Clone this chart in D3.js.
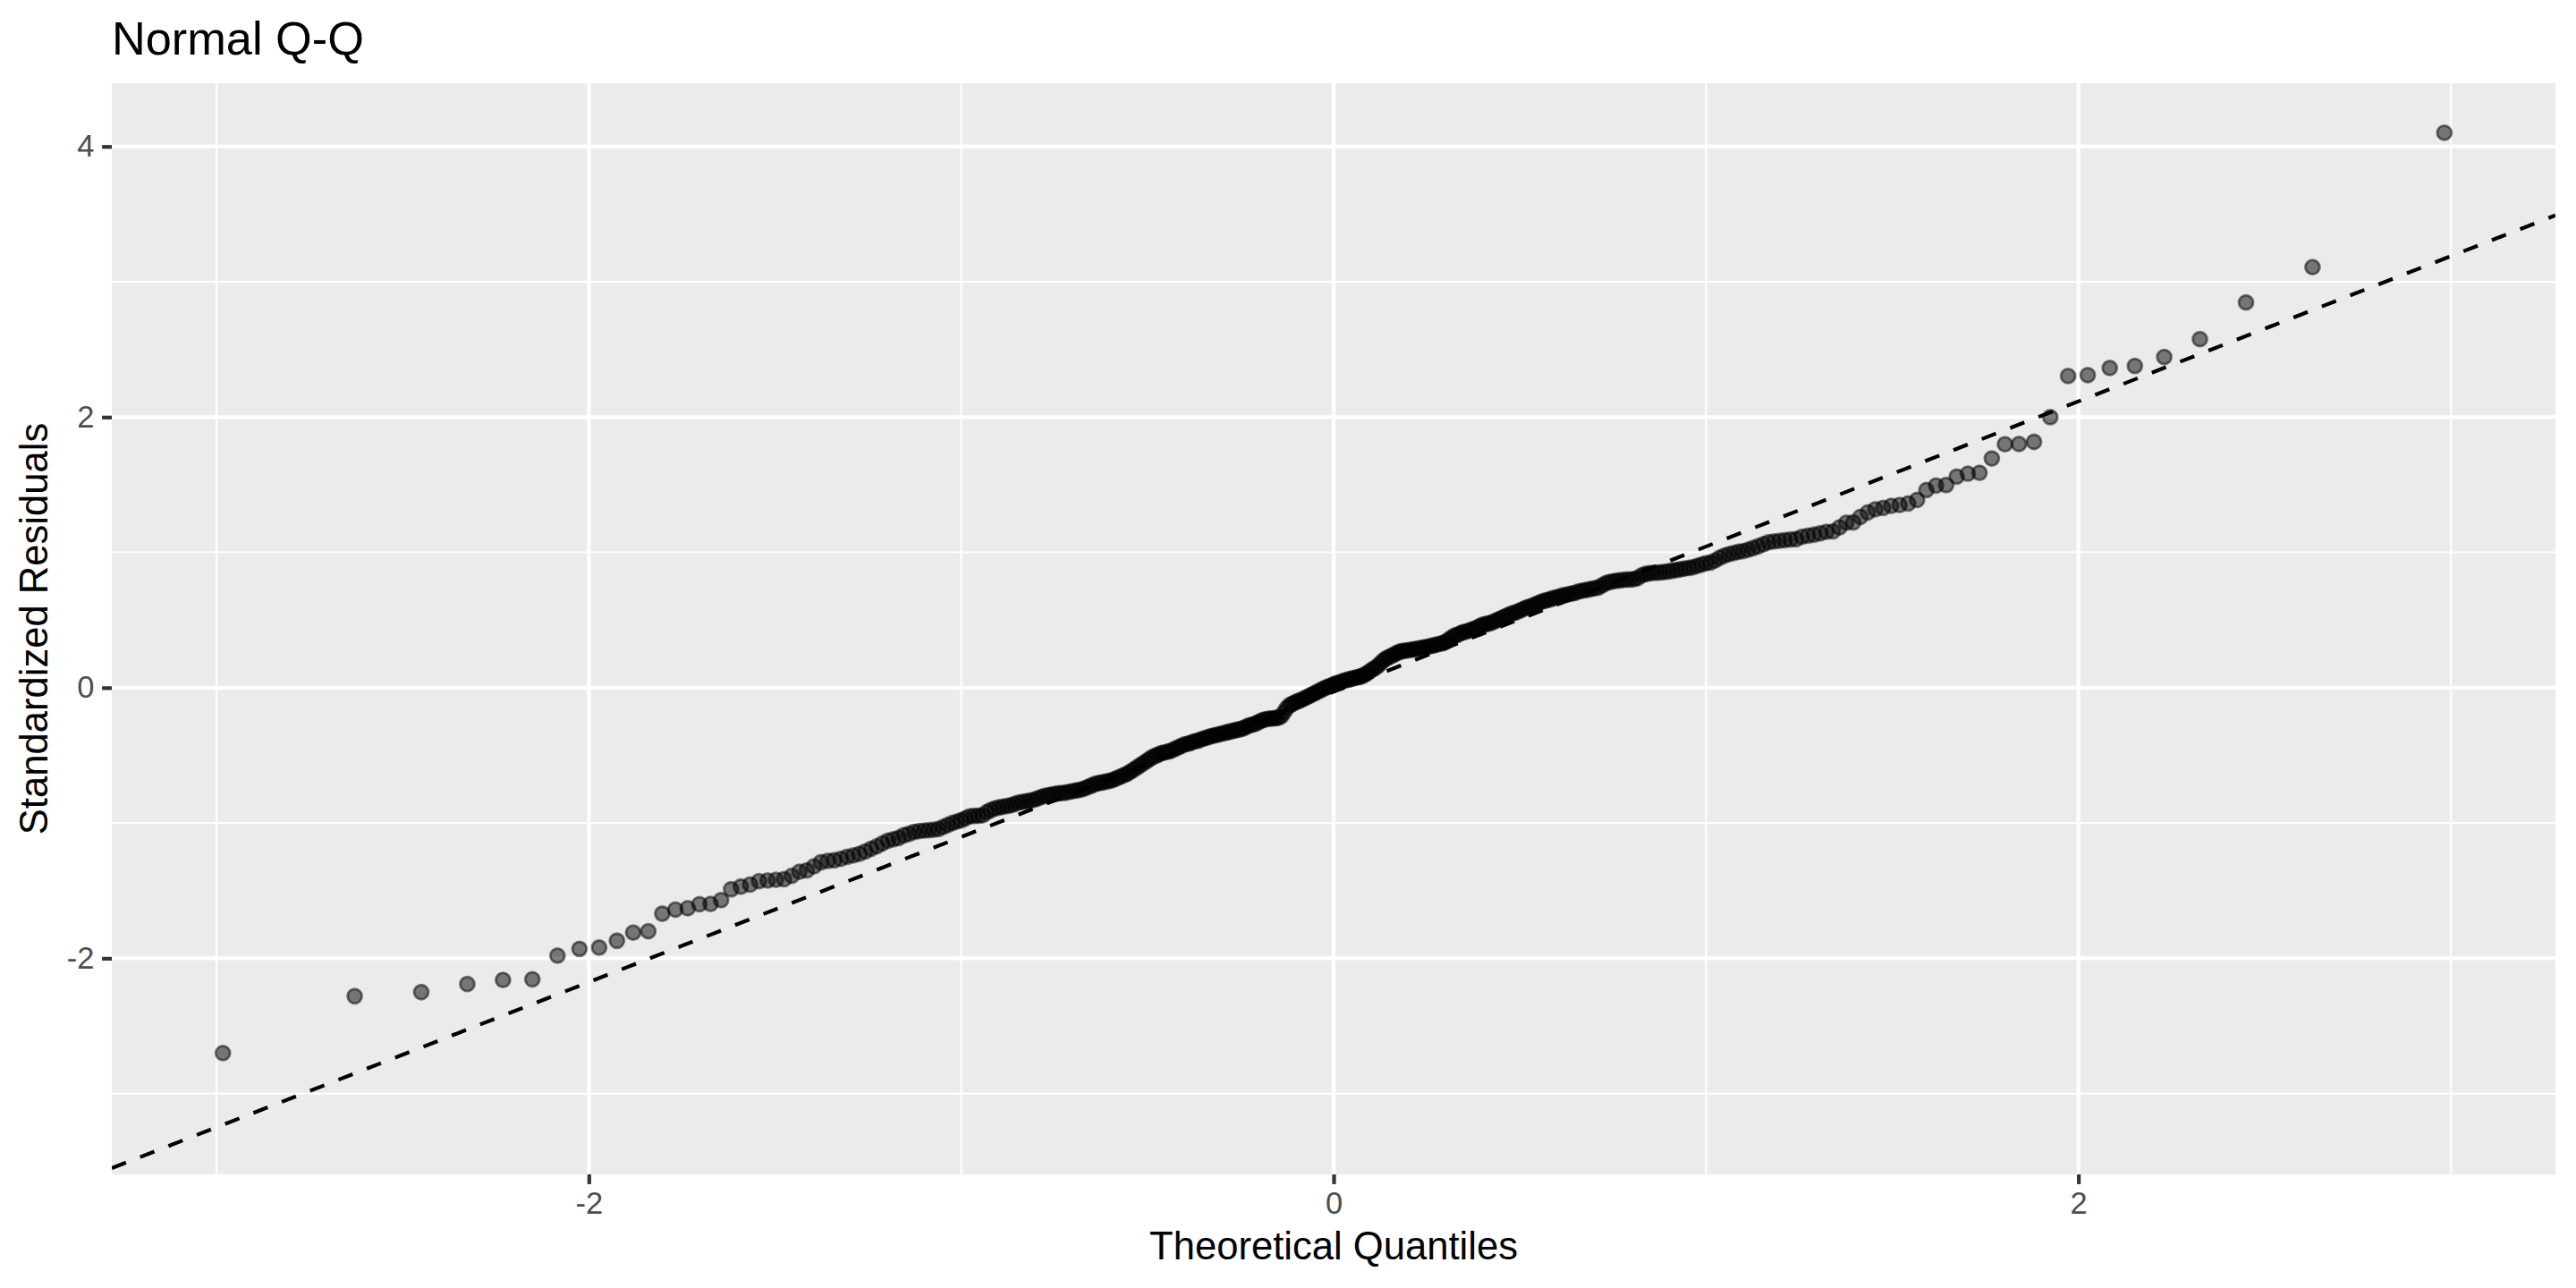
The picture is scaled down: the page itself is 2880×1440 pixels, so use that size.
<!DOCTYPE html>
<html><head><meta charset="utf-8">
<script src="https://cdn.jsdelivr.net/npm/d3@7"></script>
<style>
html,body{margin:0;padding:0;background:#fff;}
svg{display:block;}
text{font-family:"Liberation Sans", Arial, Helvetica, sans-serif;}
</style>
</head><body>
<svg id="chart" width="2880" height="1440"></svg>
<script>
// ---------- data ----------
const chartTitle = "Normal Q-Q";
const xAxisTitle = "Theoretical Quantiles";
const yAxisTitle = "Standardized Residuals";

// sorted standardized residuals (sample quantiles)
const residuals = [
  -2.70, -2.28, -2.25, -2.19, -2.16, -2.155, -1.98, -1.93, -1.92, -1.87,
  -1.81, -1.80, -1.67, -1.64, -1.63, -1.60, -1.598, -1.57, -1.49, -1.47,
  -1.455, -1.43, -1.425, -1.42, -1.415, -1.39, -1.36, -1.35, -1.32, -1.29,
  -1.28, -1.275, -1.265, -1.25, -1.24, -1.228, -1.21, -1.19, -1.172, -1.15,
  -1.13, -1.12, -1.11, -1.09, -1.08, -1.066, -1.06, -1.056, -1.053, -1.05,
  -1.045, -1.03, -1.015, -1.00, -0.99, -0.98, -0.965, -0.95, -0.948, -0.946,
  -0.944, -0.92, -0.905, -0.892, -0.885, -0.88, -0.875, -0.87, -0.86, -0.85,
  -0.845, -0.84, -0.835, -0.83, -0.82, -0.81, -0.80, -0.795, -0.79, -0.785,
  -0.78, -0.778, -0.776, -0.77, -0.765, -0.76, -0.755, -0.75, -0.74, -0.73,
  -0.72, -0.71, -0.705, -0.70, -0.695, -0.69, -0.685, -0.675, -0.665, -0.655,
  -0.645, -0.635, -0.62, -0.605, -0.59, -0.575, -0.56, -0.545, -0.53, -0.515,
  -0.505, -0.495, -0.485, -0.48, -0.475, -0.47, -0.46, -0.45, -0.44, -0.43,
  -0.42, -0.415, -0.41, -0.40, -0.395, -0.39, -0.38, -0.375, -0.368, -0.36,
  -0.355, -0.35, -0.345, -0.34, -0.335, -0.33, -0.325, -0.32, -0.315, -0.31,
  -0.305, -0.30, -0.29, -0.28, -0.275, -0.27, -0.26, -0.25, -0.24, -0.235,
  -0.23, -0.228, -0.226, -0.224, -0.222, -0.21, -0.18, -0.15, -0.13, -0.12,
  -0.11, -0.10, -0.095, -0.085, -0.075, -0.065, -0.055, -0.045, -0.035, -0.025,
  -0.015, -0.005, 0.005, 0.012, 0.02,
  0.03, 0.035, 0.04, 0.05, 0.055,
  0.06, 0.065, 0.07, 0.075, 0.08, 0.085, 0.095, 0.105, 0.12, 0.135,
  0.145, 0.16, 0.18, 0.20, 0.215, 0.225, 0.235, 0.245, 0.255, 0.265,
  0.27, 0.273, 0.276, 0.279, 0.282, 0.285, 0.289, 0.293, 0.297, 0.30,
  0.305, 0.31, 0.315, 0.32, 0.325, 0.33, 0.34, 0.355, 0.37, 0.385,
  0.39, 0.40, 0.41, 0.415, 0.42, 0.43, 0.435, 0.445, 0.455, 0.465,
  0.47, 0.475, 0.48, 0.49, 0.50, 0.51, 0.52, 0.53, 0.54, 0.55,
  0.555, 0.565, 0.575, 0.585, 0.595, 0.60, 0.61, 0.62, 0.63, 0.64,
  0.645, 0.65, 0.66, 0.665, 0.67, 0.68, 0.685, 0.69, 0.695, 0.70,
  0.71, 0.715, 0.72, 0.725, 0.73, 0.735, 0.74, 0.755, 0.77, 0.78,
  0.785, 0.79, 0.793, 0.796, 0.80, 0.80, 0.802, 0.81, 0.83, 0.84,
  0.845, 0.848, 0.85, 0.852, 0.855, 0.86, 0.865, 0.87, 0.875, 0.88,
  0.885, 0.89, 0.90, 0.91, 0.92, 0.925, 0.94, 0.96, 0.975, 0.987,
  0.995, 1.005, 1.01, 1.02, 1.032, 1.045, 1.06, 1.075, 1.08, 1.085,
  1.09, 1.095,
  1.098, 1.115, 1.124, 1.131, 1.141, 1.152, 1.155, 1.185, 1.219, 1.222,
  1.263, 1.296, 1.318, 1.329, 1.344, 1.350, 1.362, 1.388, 1.461, 1.494,
  1.498, 1.560, 1.582, 1.588, 1.694, 1.799, 1.801, 1.817, 1.999, 2.303,
  2.310, 2.363, 2.378, 2.444, 2.576, 2.847, 3.108, 4.101
];

// reference (qq) line
const qqLineIntercept = -0.03;
const qqLineSlope = 1.073;

const xTicks = [-2, 0, 2];
const xTickLabels = ["-2", "0", "2"];
const xMinorTicks = [-3, -1, 1, 3];
const yTicks = [-2, 0, 2, 4];
const yTickLabels = ["-2", "0", "2", "4"];
const yMinorTicks = [-3, -1, 1, 3];

// ---------- Q-Q stat: theoretical normal quantiles (like stat_qq / ppoints) ----------
function qnorm(p){
  const a=[-3.969683028665376e+01,2.209460984245205e+02,-2.759285104469687e+02,1.383577518672690e+02,-3.066479806614716e+01,2.506628277459239e+00];
  const b=[-5.447609879822406e+01,1.615858368580409e+02,-1.556989798598866e+02,6.680131188771972e+01,-1.328068155288572e+01];
  const c=[-7.784894002430293e-03,-3.223964580411365e-01,-2.400758277161838e+00,-2.549732539343734e+00,4.374664141464968e+00,2.938163982698783e+00];
  const d=[7.784695709041462e-03,3.224671290700398e-01,2.445134137142996e+00,3.754408661907416e+00];
  const pl=0.02425, ph=1-pl;
  let q,r;
  if(p<pl){q=Math.sqrt(-2*Math.log(p));return (((((c[0]*q+c[1])*q+c[2])*q+c[3])*q+c[4])*q+c[5])/((((d[0]*q+d[1])*q+d[2])*q+d[3])*q+1);}
  if(p<=ph){q=p-0.5;r=q*q;return (((((a[0]*r+a[1])*r+a[2])*r+a[3])*r+a[4])*r+a[5])*q/(((((b[0]*r+b[1])*r+b[2])*r+b[3])*r+b[4])*r+1);}
  q=Math.sqrt(-2*Math.log(1-p));return -(((((c[0]*q+c[1])*q+c[2])*q+c[3])*q+c[4])*q+c[5])/((((d[0]*q+d[1])*q+d[2])*q+d[3])*q+1);
}
const sorted = residuals.slice().sort((u,v)=>u-v);
const n = sorted.length;
const points = sorted.map((r,i)=>({x: qnorm((i+0.5)/n), y: r}));

// ---------- layout ----------
const W = 2880, H = 1440;
const panel = {left:125, right:2857, top:93, bottom:1313};

const xExt = d3.extent(points, d=>d.x);
const lineAt = x => qqLineIntercept + qqLineSlope*x;
const yLo = Math.min(d3.min(points,d=>d.y), lineAt(xExt[0]));
const yHi = Math.max(d3.max(points,d=>d.y), lineAt(xExt[1]));
const xPad = (xExt[1]-xExt[0])*0.05, yPad = (yHi-yLo)*0.05;

const x = d3.scaleLinear().domain([xExt[0]-xPad, xExt[1]+xPad]).range([panel.left, panel.right]);
const y = d3.scaleLinear().domain([yLo-yPad, yHi+yPad]).range([panel.bottom, panel.top]);

const svg = d3.select("#chart");
svg.append("rect").attr("width",W).attr("height",H).attr("fill","#ffffff");

svg.append("defs").append("clipPath").attr("id","panelClip")
  .append("rect").attr("x",panel.left).attr("y",panel.top)
  .attr("width",panel.right-panel.left).attr("height",panel.bottom-panel.top);

// panel background
svg.append("rect").attr("x",panel.left).attr("y",panel.top)
  .attr("width",panel.right-panel.left).attr("height",panel.bottom-panel.top)
  .attr("fill","#EBEBEB");

const grid = svg.append("g");
// minor grid
grid.selectAll(".xmin").data(xMinorTicks).join("line")
  .attr("x1",d=>x(d)).attr("x2",d=>x(d)).attr("y1",panel.top).attr("y2",panel.bottom)
  .attr("stroke","#fff").attr("stroke-width",2.1);
grid.selectAll(".ymin").data(yMinorTicks).join("line")
  .attr("y1",d=>y(d)).attr("y2",d=>y(d)).attr("x1",panel.left).attr("x2",panel.right)
  .attr("stroke","#fff").attr("stroke-width",2.1);
// major grid
grid.selectAll(".xmaj").data(xTicks).join("line")
  .attr("x1",d=>x(d)).attr("x2",d=>x(d)).attr("y1",panel.top).attr("y2",panel.bottom)
  .attr("stroke","#fff").attr("stroke-width",4.2);
grid.selectAll(".ymaj").data(yTicks).join("line")
  .attr("y1",d=>y(d)).attr("y2",d=>y(d)).attr("x1",panel.left).attr("x2",panel.right)
  .attr("stroke","#fff").attr("stroke-width",4.2);

// points
const plotG = svg.append("g").attr("clip-path","url(#panelClip)");
plotG.append("g").selectAll("circle").data(points).join("circle")
  .attr("cx",d=>x(d.x)).attr("cy",d=>y(d.y)).attr("r",8.0)
  .attr("fill","#000").attr("fill-opacity",0.5)
  .attr("stroke","#000").attr("stroke-opacity",0.5).attr("stroke-width",2.8);

// reference dashed line
const xd = x.domain();
plotG.append("line")
  .attr("x1",x(xd[0])).attr("y1",y(lineAt(xd[0])))
  .attr("x2",x(xd[1])).attr("y2",y(lineAt(xd[1])))
  .attr("stroke","#000").attr("stroke-width",4.2)
  .attr("stroke-dasharray","17,17");

// axes
const fontTick = 34.5;
const xAxis = d3.axisBottom(x).tickValues(xTicks).tickSize(10.9).tickPadding(8.7)
  .tickFormat((d,i)=>xTickLabels[i]);
const yAxis = d3.axisLeft(y).tickValues(yTicks).tickSize(10.9).tickPadding(8.7)
  .tickFormat((d,i)=>yTickLabels[i]);

const gx = svg.append("g").attr("transform",`translate(0,${panel.bottom})`).call(xAxis);
const gy = svg.append("g").attr("transform",`translate(${panel.left},0)`).call(yAxis);
[gx,gy].forEach(g=>{
  g.select(".domain").remove();
  g.selectAll(".tick line").attr("stroke","#333333").attr("stroke-width",4.2);
  g.selectAll(".tick text").attr("fill","#4D4D4D").style("font-size",fontTick+"px")
    .style("font-family",'"Liberation Sans", Arial, sans-serif');
});

// titles
svg.append("text").attr("x",panel.left).attr("y",61)
  .attr("fill","#000").style("font-size","52.3px").text(chartTitle);
svg.append("text").attr("x",(panel.left+panel.right)/2).attr("y",1408)
  .attr("text-anchor","middle").attr("fill","#000").style("font-size","43.6px").text(xAxisTitle);
svg.append("text")
  .attr("transform",`translate(53,${(panel.top+panel.bottom)/2}) rotate(-90)`)
  .attr("text-anchor","middle").attr("fill","#000").style("font-size","43.6px").text(yAxisTitle);
</script>
</body></html>
